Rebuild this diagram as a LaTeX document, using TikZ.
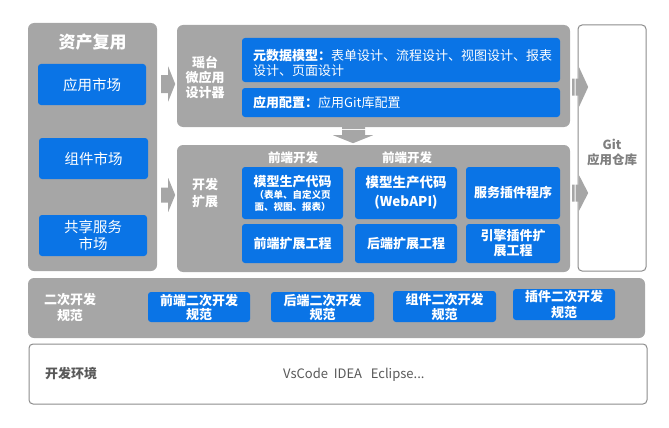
\documentclass[tikz,border=0pt]{standalone}
\usepackage{fontspec}
\setmainfont{Noto Sans CJK SC}
\usetikzlibrary{calc}
\definecolor{pgray}{HTML}{A6A6A6}
\definecolor{bblue}{HTML}{0A74E6}
\definecolor{tgray}{HTML}{595959}
\definecolor{ggray}{HTML}{7F7F7F}
\definecolor{bgray}{HTML}{8C8C8C}
\begin{document}
\begin{tikzpicture}[x=1pt,y=-1pt,
 panel/.style={rectangle, rounded corners=6pt, fill=pgray, inner sep=0},
 wpanel/.style={rectangle, rounded corners=4pt, draw=bgray, line width=1pt, fill=white, inner sep=0},
 bbox/.style={rectangle, rounded corners=3pt, fill=bblue, text=white, inner sep=0, align=center},
 wtxt/.style={text=white, inner sep=0, align=center, font=\bfseries\fontsize{13}{15}\selectfont},
 bf13/.style={font=\bfseries\fontsize{13}{15}\selectfont},
 rg14/.style={font=\fontsize{14.5}{17}\selectfont},
 blockarrow/.style={fill=pgray},
]
\useasboundingbox (0,0) rectangle (669,428);
% left panel
\node[panel, minimum width=129pt, minimum height=248pt] (lp) at (92.5,147) {};
\node[wtxt, font=\bfseries\fontsize{17}{19}\selectfont] (lpt) at (92.5,42) {资产复用};
\node[bbox, rg14, minimum width=108pt, minimum height=41pt] (m1) at (92,84.5) {应用市场};
\node[bbox, rg14, minimum width=109pt, minimum height=41pt] (m2) at (93.5,158.5) {组件市场};
\node[bbox, rg14, minimum width=108pt, minimum height=41pt] (m3) at (93,235.5) {共享服务\\市场};
% top panel
\node[panel, minimum width=393pt, minimum height=102pt] (tp) at (373.5,76) {};
\node[wtxt] (tpt) at (205,77) {瑶台\\微应用\\设计器};
\node[bbox, minimum width=318pt, minimum height=44pt] (meta) at (401,60) {};
\node[text=white, inner sep=0, align=left, anchor=west, font=\fontsize{13}{15}\selectfont] (metat) at (253,62.5) {{\bfseries 元数据模型：}表单设计、流程设计、视图设计、报表\\设计、页面设计};
\node[bbox, minimum width=318pt, minimum height=29pt] (cfg) at (401,102.5) {};
\node[text=white, inner sep=0, anchor=west, font=\fontsize{13}{15}\selectfont] (cfgt) at (253,102.5) {{\bfseries 应用配置：}应用Git库配置};
% middle panel
\node[panel, minimum width=393pt, minimum height=127pt] (mp) at (373.5,208.5) {};
\node[wtxt, font=\bfseries\fontsize{13}{17}\selectfont] (mpt) at (205,193.5) {开发\\扩展};
\node[wtxt, font=\bfseries\fontsize{12.5}{15}\selectfont] (fe1) at (293,158) {前端开发};
\node[wtxt, font=\bfseries\fontsize{12.5}{15}\selectfont] (fe2) at (407,158) {前端开发};
\node[bbox, font=\bfseries\fontsize{9.5}{12}\selectfont, minimum width=101pt, minimum height=52pt] (r11) at (292.5,193) {{\fontsize{13}{12}\selectfont 模型生产代码}\\（表单、自定义页\\面、视图、报表）};
\node[bbox, font=\bfseries\fontsize{13.5}{19}\selectfont, minimum width=102pt, minimum height=52pt] (r12) at (406,193) {模型生产代码\\(WebAPI)};
\node[bbox, bf13, minimum width=94pt, minimum height=52pt] (r13) at (513,193) {服务插件程序};
\node[bbox, bf13, minimum width=101pt, minimum height=39pt] (r21) at (292.5,243.5) {前端扩展工程};
\node[bbox, bf13, minimum width=102pt, minimum height=39pt] (r22) at (406,243.5) {后端扩展工程};
\node[bbox, bf13, minimum width=94pt, minimum height=39pt] (r23) at (513,243.5) {引擎插件扩\\展工程};
% arrows left -> panels
\path (lp.east) ++(0,-63) coordinate (a1);
\path (lp.east) ++(0,48) coordinate (a2);
\fill[blockarrow, shift={(a1)}] (4,-9) rectangle (11,9) (11,-17.5) -- (18,0) -- (11,17.5) -- cycle;
\fill[blockarrow, shift={(a2)}] (4,-7.5) rectangle (11,7.5) (11,-17) -- (18,0) -- (11,17) -- cycle;
% down arrow
\path (tp.south) ++(-20.5,0) coordinate (d1);
\fill[blockarrow, shift={(d1)}] (-11,0) rectangle (12,1.7) (-11,2.7) rectangle (12,8) (-20,8) -- (20,8) -- (0,16) -- cycle;
% git panel
\node[wpanel, minimum width=68pt, minimum height=246pt] (git) at (612,148) {};
\node[inner sep=0, align=center, text=ggray, font=\bfseries\fontsize{12.5}{15}\selectfont] (gitt) at (612,152.5) {Git\\应用仓库};
\path (tp.east) ++(0,11) coordinate (g1);
\path (mp.east) ++(0,-15.5) coordinate (g2);
\fill[blockarrow, shift={(g1)}] (2,-8.5) rectangle (4.3,8.5) (5.3,-8.5) rectangle (9,8.5) (9,-19.5) -- (18,0) -- (9,19.5) -- cycle;
\fill[blockarrow, shift={(g2)}] (2,-8.5) rectangle (4.3,8.5) (5.3,-8.5) rectangle (9,8.5) (9,-17.5) -- (18,0) -- (9,17.5) -- cycle;
% bottom spec panel
\node[panel, minimum width=617pt, minimum height=60pt] (sp) at (336.5,308) {};
\node[wtxt, font=\bfseries\fontsize{13}{16}\selectfont] (spt) at (70,307) {二次开发\\规范};
\node[bbox, font=\bfseries\fontsize{13}{14}\selectfont, minimum width=102pt, minimum height=30pt] (s1) at (199,307) {前端二次开发\\规范};
\node[bbox, font=\bfseries\fontsize{13}{14}\selectfont, minimum width=103pt, minimum height=30pt] (s2) at (322.5,307) {后端二次开发\\规范};
\node[bbox, font=\bfseries\fontsize{13}{15}\selectfont, minimum width=103pt, minimum height=31pt] (s3) at (444.5,306.5) {组件二次开发\\规范};
\node[bbox, font=\bfseries\fontsize{13}{16}\selectfont, minimum width=102pt, minimum height=31pt] (s4) at (564,304.5) {插件二次开发\\规范};
% env panel
\node[wpanel, minimum width=618pt, minimum height=60pt] (env) at (338,374) {};
\node[inner sep=0, anchor=west, text=tgray, font=\bfseries\fontsize{13}{15}\selectfont] (envt) at (45,374) {开发环境};
\node[inner sep=0, anchor=west, text=tgray, font=\fontsize{13}{15}\selectfont] (envv) at (283,375) {VsCode\ \ IDEA\ \ \ Eclipse...};
\end{tikzpicture}
\end{document}
